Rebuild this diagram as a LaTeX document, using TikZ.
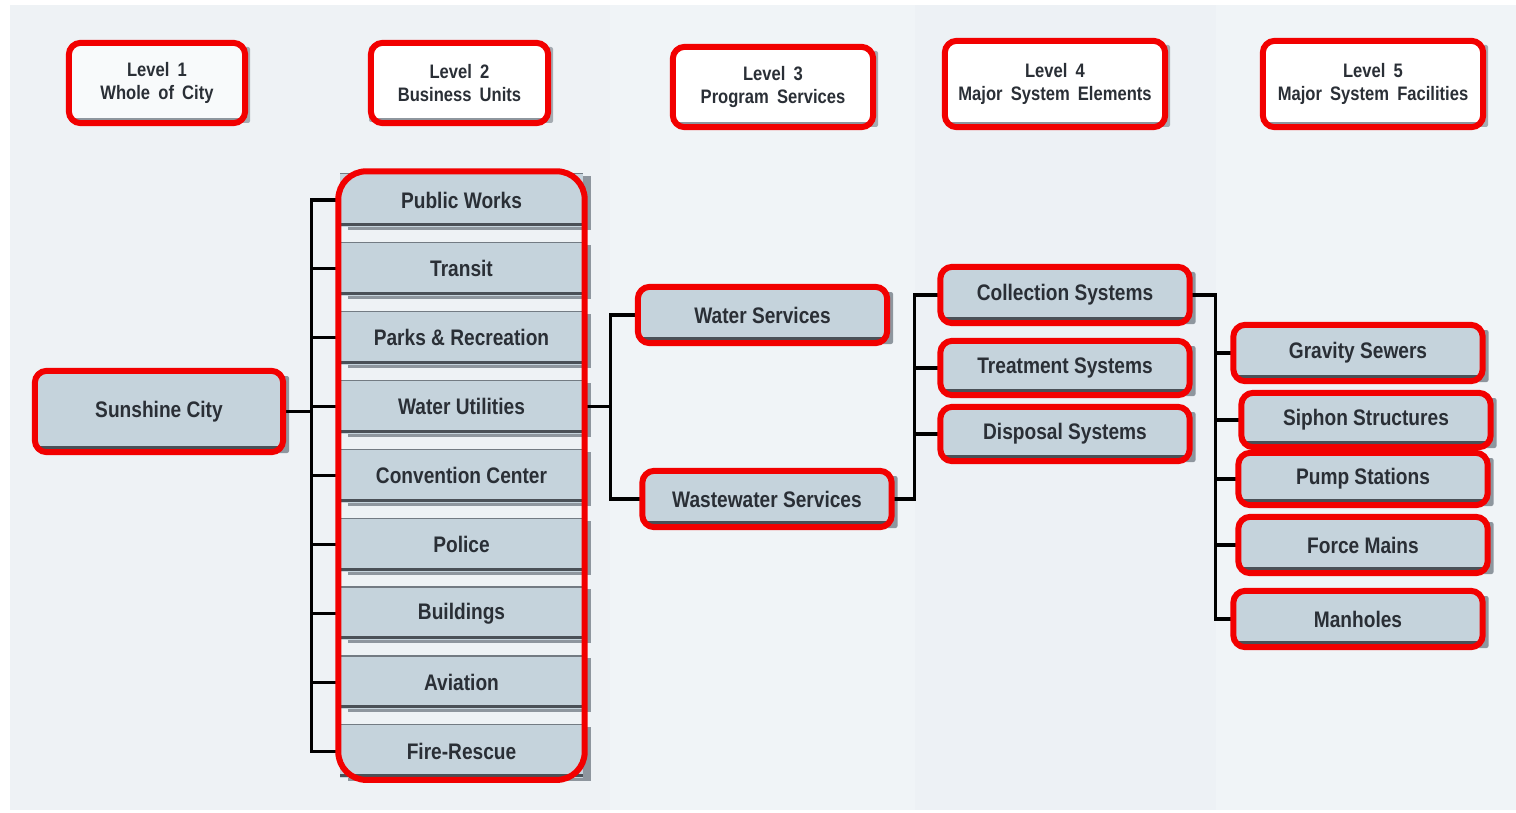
\documentclass[tikz,border=0pt]{standalone}
\usepackage{fontspec}
\setmainfont{Liberation Sans}[FakeStretch=0.85]
\usetikzlibrary{fit,shadows}

\definecolor{page}{HTML}{EEF2F5}
\definecolor{bandA}{HTML}{F0F4F7}
\definecolor{bandB}{HTML}{EDF1F5}
\definecolor{boxfill}{HTML}{C5D3DC}
\definecolor{plate}{HTML}{8E969E}
\definecolor{edge}{HTML}{4A5057}
\definecolor{topedge}{HTML}{737B83}
\definecolor{ink}{HTML}{2A2F36}
\definecolor{alert}{HTML}{F20000}

\newcommand\headfont{\fontsize{19.5}{23}\selectfont\bfseries\spaceskip 0.42em\relax}

\tikzset{
  % gray-blue unit box with a dark bottom edge
  unit/.style={fill=boxfill, text=ink, inner sep=0pt, rounded corners=2pt,
    font=\fontsize{22.5}{26}\selectfont\bfseries,
    minimum width=245pt, minimum height=52pt,
    drop shadow={shadow xshift=8pt, shadow yshift=-3pt, fill=plate, opacity=1},
    path picture={
      \draw[edge, line width=3pt]
        ([yshift=2.5pt]path picture bounding box.south west) --
        ([yshift=2.5pt]path picture bounding box.south east);
      \draw[topedge, line width=1.2pt]
        ([yshift=-0.6pt]path picture bounding box.north west) --
        ([yshift=-0.6pt]path picture bounding box.north east);}},
  % business unit boxes in the stacked column
  stack/.style={unit, minimum width=243pt, minimum height=54pt, rounded corners=0pt},
  % white header boxes of the level titles
  header/.style={fill=white, text=ink, inner sep=0pt, rounded corners=2pt,
    align=center, font=\headfont,
    drop shadow={shadow xshift=7pt, shadow yshift=-2pt, fill=plate!80, opacity=1},
    path picture={
      \draw[plate, line width=2.5pt]
        ([yshift=2pt]path picture bounding box.south west) --
        ([yshift=2pt]path picture bounding box.south east);}},
  % red highlight frame drawn around a box
  frame/.style={draw=alert, line width=6pt, rounded corners=12pt, inner sep=2pt},
  conn/.style={draw=black, line width=3.2pt},
}

\begin{document}
\begin{tikzpicture}[x=1pt, y=-1pt]
\useasboundingbox (0,0) rectangle (1516,813);

% background with faint column bands
\fill[white] (0,0) rectangle (1516,813);
\fill[page] (10,5) rectangle (1516,810);
\fill[bandA] (610,5) rectangle (915,810);
\fill[bandB] (915,5) rectangle (1216,810);
\fill[bandA] (1216,5) rectangle (1516,810);

% level headers
\node[header, minimum width=172pt, minimum height=76pt, fill=page!40] (h1) at (157,83)
  {Level 1\\Whole of City};
\node[header, minimum width=173pt, minimum height=76pt,
  drop shadow={shadow xshift=-4pt, shadow yshift=-1pt, fill=plate!80, opacity=1}] (h2) at (459.5,83)
  {Level 2\\Business Units};
\node[header, minimum width=196pt, minimum height=76pt] (h3) at (773,87)
  {Level 3\\Program Services};
\node[header, minimum width=216pt, minimum height=82pt] (h4) at (1055,84)
  {Level 4\\Major System Elements};
\node[header, minimum width=216pt, minimum height=82pt] (h5) at (1373,84)
  {Level 5\\Major System Facilities};

% level 1
\node[unit, minimum width=244pt, minimum height=77pt] (sc) at (159,411.5) {Sunshine City};

% level 2: business units
\node[stack] (pw) at (461.5,200.0) {Public Works};
\node[stack] (tr) at (461.5,268.9) {Transit};
\node[stack] (pr) at (461.5,337.8) {Parks \& Recreation};
\node[stack] (wu) at (461.5,406.7) {Water Utilities};
\node[stack] (cc) at (461.5,475.6) {Convention Center};
\node[stack] (po) at (461.5,544.5) {Police};
\node[stack] (bu) at (461.5,613.4) {Buildings};
\node[stack] (av) at (461.5,682.3) {Aviation};
\node[stack] (fr) at (461.5,751.2) {Fire-Rescue};

% level 3: program services
\node[unit] (ws)  at (762.5,315) {Water Services};
\node[unit] (wws) at (767,499) {Wastewater Services};

% level 4: major system elements
\node[unit] (cs) at (1065,295) {Collection Systems};
\node[unit, minimum height=50pt] (ts) at (1065,368) {Treatment Systems};
\node[unit, minimum height=50pt] (ds) at (1065,434) {Disposal Systems};

% level 5: major system facilities
\node[unit] (gs) at (1358,353) {Gravity Sewers};
\node[unit, minimum height=50pt] (ss) at (1366,420) {Siphon Structures};
\node[unit, minimum height=48pt] (ps) at (1363,479) {Pump Stations};
\node[unit] (fm) at (1363,545) {Force Mains};
\node[unit] (mh) at (1358,619) {Manholes};

% tree connectors
\foreach \n in {pw,tr,pr,wu,cc,po,bu,av,fr}
  \draw[conn] (sc.east) -- ++(30,0) |- (\n.west);
\foreach \n in {ws,wws}
  \draw[conn] (wu.east) -- ++(27,0) |- (\n.west);
\foreach \n in {cs,ts,ds}
  \draw[conn] (wws.east) -- ++(25,0) |- (\n.west);
\foreach \n in {gs,ss,ps,fm,mh}
  \draw[conn] (cs.east) -- ++(28,0) |- (\n.west);

% red highlight frames
\node[frame, fit=(h1)] (h1f) {};
\node[frame, fit=(h2)] (h2f) {};
\node[frame, fit=(h3)] (h3f) {};
\node[frame, fit=(h4)] (h4f) {};
\node[frame, fit=(h5)] (h5f) {};
\node[frame, fit=(sc)] (scf) {};
\node[frame, fit=(pw)(fr), inner sep=1.5pt, rounded corners=28pt] (buf) {};
\node[frame, fit=(ws)] (wsf) {};
\node[frame, fit=(wws)] (wwsf) {};
\node[frame, fit=(cs)] (csf) {};
\node[frame, fit=(ts)] (tsf) {};
\node[frame, fit=(ds)] (dsf) {};
\node[frame, fit=(gs)] (gsf) {};
\node[frame, fit=(ss)] (ssf) {};
\node[frame, fit=(ps)] (psf) {};
\node[frame, fit=(fm)] (fmf) {};
\node[frame, fit=(mh)] (mhf) {};
\end{tikzpicture}
\end{document}
